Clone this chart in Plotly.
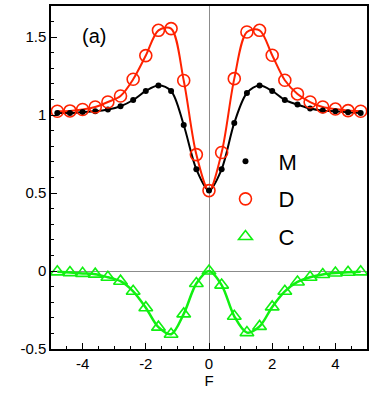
import plotly.graph_objects as go

# data
F = [-4.8, -4.4, -4.0, -3.6, -3.2, -2.8, -2.4, -2.0, -1.6, -1.2, -0.8, -0.4, 0.0,
     0.4, 0.8, 1.2, 1.6, 2.0, 2.4, 2.8, 3.2, 3.6, 4.0, 4.4, 4.8]

M = [1.014, 1.014, 1.020, 1.025, 1.036, 1.057, 1.097, 1.155, 1.190, 1.155, 0.937, 0.653, 0.516,
     0.653, 0.950, 1.142, 1.190, 1.155, 1.097, 1.068, 1.042, 1.029, 1.025, 1.018, 1.014]

D = [1.025, 1.027, 1.036, 1.052, 1.084, 1.123, 1.230, 1.382, 1.544, 1.555, 1.222, 0.747, 0.516,
     0.760, 1.234, 1.533, 1.544, 1.384, 1.224, 1.136, 1.084, 1.052, 1.039, 1.029, 1.025]

C = [-0.005, -0.010, -0.015, -0.020, -0.040, -0.065, -0.130, -0.235, -0.360, -0.405, -0.275, -0.080, 0.000,
     -0.090, -0.290, -0.395, -0.355, -0.230, -0.130, -0.070, -0.040, -0.022, -0.013, -0.008, -0.005]

x_ticks = [-4, -2, 0, 2, 4]
x_labels = ['-4', '-2', '0', '2', '4']
y_ticks = [-0.5, 0, 0.5, 1, 1.5]
y_labels = ['-0.5', '0', '0.5', '1', '1.5']

BLACK = '#000000'
RED = '#ff2200'
GREEN = '#11f011'
FONT = 'Liberation Sans, Arial, sans-serif'

fig = go.Figure()

# smooth curves (no legend)
for ys, col, w in [(M, BLACK, 2), (D, RED, 2), (C, GREEN, 2.5)]:
    fig.add_trace(go.Scatter(x=F, y=ys, mode='lines', showlegend=False,
                             line=dict(color=col, width=w, shape='spline', smoothing=0.9),
                             hoverinfo='skip'))

fig.add_trace(go.Scatter(x=F, y=M, mode='markers', name='M', legendgroup='M',
                         marker=dict(symbol='circle', size=6, color=BLACK)))
fig.add_trace(go.Scatter(x=F, y=D, mode='markers', name='D', legendgroup='D',
                         marker=dict(symbol='circle-open', size=12, color=RED,
                                     line=dict(width=1.6, color=RED))))
fig.add_trace(go.Scatter(x=F, y=C, mode='markers', name='C', legendgroup='C',
                         marker=dict(symbol='triangle-up-open', size=12, color=GREEN,
                                     line=dict(width=1.6, color=GREEN))))

axis_common = dict(
    showgrid=False, automargin=False,
    showline=True, mirror=True, linecolor=BLACK, linewidth=1.5,
    ticks='inside', ticklen=6, tickwidth=1, tickcolor=BLACK,
    zeroline=True, zerolinecolor='#8c8c8c', zerolinewidth=1,
    tickfont=dict(family=FONT, size=15, color=BLACK),
)

fig.update_xaxes(range=[-5, 5], tickmode='array', tickvals=x_ticks, ticktext=x_labels,
                 minor=dict(ticks='inside', dtick=0.5, tick0=0, ticklen=3, tickcolor=BLACK),
                 title=dict(text='F', font=dict(family=FONT, size=15, color=BLACK), standoff=2),
                 **axis_common)
fig.update_yaxes(range=[-0.5, 1.7], tickmode='array', tickvals=y_ticks, ticktext=y_labels,
                 minor=dict(ticks='inside', dtick=0.1, tick0=0, ticklen=3, tickcolor=BLACK),
                 **axis_common)

fig.add_annotation(text='(a)', x=0.135, y=0.913, xref='paper', yref='paper',
                   xanchor='center', yanchor='middle', showarrow=False,
                   font=dict(family=FONT, size=20, color=BLACK))

fig.update_layout(
    width=374, height=400,
    margin=dict(l=51, r=7, t=6, b=51),
    plot_bgcolor='white', paper_bgcolor='white',
    font=dict(family=FONT, color=BLACK),
    legend=dict(x=0.511, y=0.608, xanchor='left', yanchor='top',
                bgcolor='rgba(0,0,0,0)', font=dict(family=FONT, size=22, color=BLACK),
                itemwidth=56, tracegroupgap=6, traceorder='grouped'),
)

# drop the browser's default page margin so the figure sits at (0, 0)
fig.write_html("out.html", config={'displayModeBar': False},
               post_script="document.body.style.margin='0';")
